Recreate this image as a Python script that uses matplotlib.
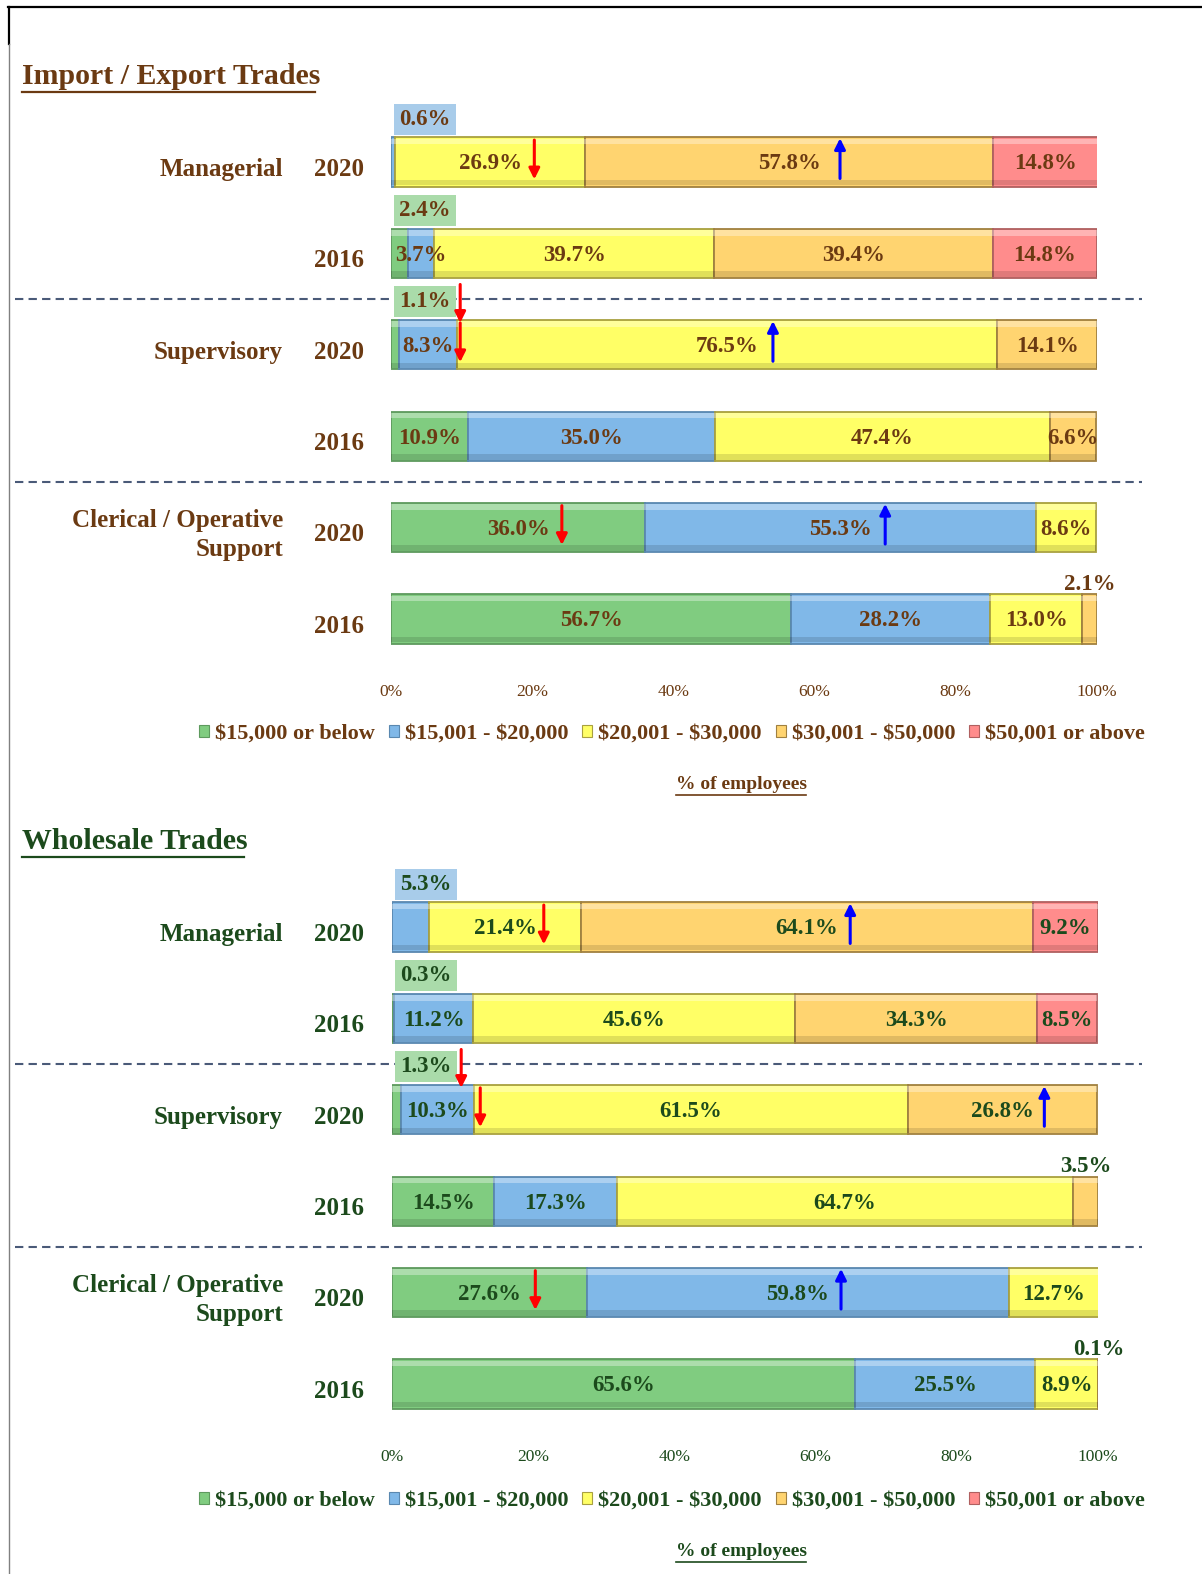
import matplotlib
matplotlib.use("Agg")
import matplotlib.pyplot as plt
import matplotlib.transforms as mtransforms
from matplotlib.patches import Patch
from matplotlib.lines import Line2D

plt.rcParams['font.family'] = ['Liberation Serif', 'DejaVu Serif']
plt.rcParams['text.parse_math'] = False

# ---------------- data ----------------
categories = ["Managerial", "Supervisory", "Clerical / Operative\nSupport"]
years = ["2020", "2016"]
series_names = ["$15,000 or below", "$15,001 - $20,000", "$20,001 - $30,000",
                "$30,001 - $50,000", "$50,001 or above"]
tick_vals = [0, 20, 40, 60, 80, 100]
tick_labels = ["0%", "20%", "40%", "60%", "80%", "100%"]

# Import / Export Trades  (rows: Man 2020, Man 2016, Sup 2020, Sup 2016, Cler 2020, Cler 2016)
ie_green = [0.0, 2.4, 1.1, 10.9, 36.0, 56.7]
ie_blue = [0.6, 3.7, 8.3, 35.0, 55.3, 28.2]
ie_yellow = [26.9, 39.7, 76.5, 47.4, 8.6, 13.0]
ie_orange = [57.8, 39.4, 14.1, 6.6, 0.0, 2.1]
ie_red = [14.8, 14.8, 0.0, 0.0, 0.0, 0.0]

# Wholesale Trades
ws_green = [0.0, 0.3, 1.3, 14.5, 27.6, 65.6]
ws_blue = [5.3, 11.2, 10.3, 17.3, 59.8, 25.5]
ws_yellow = [21.4, 45.6, 61.5, 64.7, 12.7, 8.9]
ws_orange = [64.1, 34.3, 26.8, 3.5, 0.0, 0.1]
ws_red = [9.2, 8.5, 0.0, 0.0, 0.0, 0.0]

# labels drawn above the bar: (row, series)
ie_above = [(0, 1), (1, 0), (2, 0), (5, 3)]
ws_above = [(0, 1), (1, 0), (2, 0), (3, 3), (5, 3)]

# change arrows: (row, x in %, kind)
ie_arrows = [(0, 20.3, 'down'), (0, 63.6, 'up'), (2, 9.8, 'down_above'), (2, 9.8, 'down'),
             (2, 54.1, 'up'), (4, 24.2, 'down'), (4, 70.0, 'up')]
ws_arrows = [(0, 21.5, 'down'), (0, 64.9, 'up'), (2, 9.8, 'down_above'), (2, 12.5, 'down'),
             (2, 92.4, 'up'), (4, 20.3, 'down'), (4, 63.6, 'up')]

# ---------------- style ----------------
W, H = 1202, 1574
seg_colors = ['#80CC80', '#80B8E8', '#FFFF66', '#FFD470', '#FF8C8C']
edge_colors = ['#5E9A5E', '#5A88B0', '#A8A040', '#A08040', '#B06060']
box_colors = ['#AADBAA', '#A8CCEA']
bar_h = 0.54


def fx(px):
    return px / W


def fy(py):
    return 1 - py / H


fig = plt.figure(figsize=(W / 100, H / 100), dpi=100)

# frame lines
fig.add_artist(Line2D([fx(8), fx(1202)], [fy(7), fy(7)], color='black', lw=1.6))
fig.add_artist(Line2D([fx(9), fx(9)], [fy(7), fy(44)], color='black', lw=1.6))
fig.add_artist(Line2D([fx(9), fx(9)], [fy(44), fy(1574)], color='#808080', lw=1.0))


def draw_panel(top_px, left_px, title, title_y, tcolor, data, above, arrows, tick_y_pad,
               legend_y, xlabel_y, title_underline_x2):
    right_px = left_px + 706
    y0 = top_px - 45.7
    y1 = top_px + 5 * 91.4 + 45.7
    ax = fig.add_axes([fx(left_px), fy(y1), (right_px - left_px) / W, (y1 - y0) / H])
    ax.set_xlim(0, 100)
    ax.set_ylim(5.5, -0.5)
    for s in ax.spines.values():
        s.set_visible(False)
    ax.set_yticks([])
    ax.set_xticks(tick_vals)
    ax.set_xticklabels(tick_labels, fontsize=12.5, color=tcolor)
    ax.tick_params(axis='x', length=0, pad=tick_y_pad)

    rows = list(range(6))
    lefts = [0.0] * 6
    for si, vals in enumerate(data):
        for r in rows:
            v = vals[r]
            if v > 0:
                ax.barh(r, v, left=lefts[r], height=bar_h, color=seg_colors[si],
                        edgecolor=edge_colors[si], linewidth=1.3, zorder=2)
                # bevel highlights
                ax.barh(r - bar_h / 2 + 0.045, v, left=lefts[r], height=0.06,
                        color='white', alpha=0.35, linewidth=0, zorder=3)
                ax.barh(r + bar_h / 2 - 0.045, v, left=lefts[r], height=0.06,
                        color='black', alpha=0.12, linewidth=0, zorder=3)
                cx = lefts[r] + v / 2
                lbl = f"{v:.1f}%"
                if (r, si) not in above:
                    ax.text(cx, r + 0.02, lbl, ha='center', va='center', fontsize=16.5,
                            fontweight='bold', color=tcolor, zorder=6)
                elif si <= 1:
                    ax.text(lefts[r] + 4.8, r - 0.47, lbl, ha='center', va='center',
                            fontsize=16.5, fontweight='bold', color=tcolor, zorder=6,
                            bbox=dict(boxstyle='square,pad=0.22', facecolor=box_colors[si],
                                      edgecolor='none'))
                else:
                    ax.text(cx, r - 0.38, lbl, ha='center', va='center', fontsize=16.5,
                            fontweight='bold', color=tcolor, zorder=6)
                lefts[r] += v

    # arrows
    for r, x, kind in arrows:
        if kind == 'down':
            ys, ye, c = r - 0.24, r + 0.19, 'red'
        elif kind == 'down_above':
            ys, ye, c = r - 0.66, r - 0.24, 'red'
        else:
            ys, ye, c = r + 0.18, r - 0.26, 'blue'
        ax.annotate('', xy=(x, ye), xytext=(x, ys),
                    arrowprops=dict(arrowstyle='-|>', color=c, lw=2.2, mutation_scale=16,
                                    shrinkA=0, shrinkB=0), zorder=7)

    # row labels
    tr = mtransforms.blended_transform_factory(fig.transFigure, ax.transData)
    for ci, cat in enumerate(categories):
        r = ci * 2
        ax.text(fx(283), r + 0.08, cat, transform=tr, ha='right', va='center',
                fontsize=18, fontweight='bold', color=tcolor, linespacing=1.35)
        for yi, yr in enumerate(years):
            ax.text(fx(364), r + yi + 0.08, yr, transform=tr, ha='right', va='center',
                    fontsize=18, fontweight='bold', color=tcolor)
    # dashed separators
    for yy in (1.5, 3.5):
        ax.add_artist(Line2D([fx(15), fx(1142)], [yy, yy], transform=tr, color='#4A5A78',
                             lw=1.5, linestyle=(0, (4, 2.5)), clip_on=False))

    # title
    fig.text(fx(22), fy(title_y), title, ha='left', va='center', fontsize=21.5,
             fontweight='bold', color=tcolor)
    fig.add_artist(Line2D([fx(22), fx(title_underline_x2)], [fy(title_y + 15), fy(title_y + 15)],
                          color=tcolor, lw=1.6))

    # legend
    handles = [Patch(facecolor=seg_colors[i], edgecolor=edge_colors[i], linewidth=0.8)
               for i in range(5)]
    fig.legend(handles, series_names, loc='center', bbox_to_anchor=(fx(672), fy(legend_y)),
               ncol=5, frameon=False, handlelength=0.45, handleheight=0.45,
               handletextpad=0.25, columnspacing=0.65,
               prop=dict(family='Liberation Serif', weight='bold', size=16),
               labelcolor=tcolor)

    # x label
    fig.text(fx(741), fy(xlabel_y), "% of employees", ha='center', va='center', fontsize=14,
             fontweight='bold', color=tcolor)
    fig.add_artist(Line2D([fx(676), fx(806)], [fy(xlabel_y + 11), fy(xlabel_y + 11)],
                          color=tcolor, lw=1.2))
    return ax


brown = '#6B3A12'
green = '#1C4A1C'

draw_panel(162, 391, "Import / Export Trades", 77, brown,
           [ie_green, ie_blue, ie_yellow, ie_orange, ie_red], ie_above, ie_arrows, 14, 734, 784, 315)
draw_panel(927, 392, "Wholesale Trades", 842, green,
           [ws_green, ws_blue, ws_yellow, ws_orange, ws_red], ws_above, ws_arrows, 14, 1501, 1551, 244)

fig.savefig("out.png", dpi=100)
